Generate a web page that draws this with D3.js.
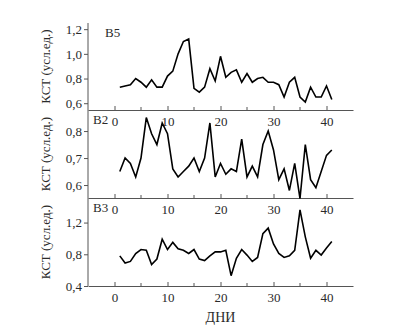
<!DOCTYPE html>
<html>
<head>
<meta charset="utf-8">
<script src="https://cdn.jsdelivr.net/npm/d3@7/dist/d3.min.js"></script>
<style>
  html, body { margin: 0; padding: 0; background: #fff; }
  svg { display: block; }
  svg text { font-family: "Times New Roman", "Liberation Serif", "DejaVu Serif", serif !important; }
</style>
</head>
<body>
<svg id="chart" width="400" height="332"></svg>
<script>
// Days of observation
const days = d3.range(1, 42);

// Series values (КСТ, усл.ед.) for each group
const seriesB5 = [0.73, 0.74, 0.75, 0.80, 0.77, 0.73, 0.79, 0.73, 0.73, 0.82,
                  0.86, 1.00, 1.10, 1.12, 0.72, 0.69, 0.73, 0.88, 0.78, 0.98,
                  0.81, 0.85, 0.87, 0.77, 0.84, 0.77, 0.80, 0.81, 0.77, 0.77,
                  0.75, 0.65, 0.77, 0.81, 0.65, 0.61, 0.73, 0.65, 0.65, 0.74,
                  0.63];
const seriesB2 = [0.65, 0.70, 0.68, 0.63, 0.70, 0.85, 0.79, 0.75, 0.83, 0.79,
                  0.66, 0.63, 0.65, 0.67, 0.70, 0.65, 0.70, 0.83, 0.63, 0.68,
                  0.64, 0.66, 0.65, 0.77, 0.63, 0.67, 0.63, 0.75, 0.80, 0.73,
                  0.62, 0.66, 0.58, 0.68, 0.55, 0.75, 0.62, 0.59, 0.65, 0.71,
                  0.73];
const seriesB3 = [0.78, 0.69, 0.71, 0.81, 0.86, 0.85, 0.67, 0.74, 0.99, 0.86,
                  0.95, 0.87, 0.85, 0.81, 0.86, 0.74, 0.72, 0.78, 0.83, 0.83,
                  0.85, 0.53, 0.75, 0.86, 0.79, 0.71, 0.76, 1.06, 1.13, 0.93,
                  0.81, 0.76, 0.78, 0.85, 1.36, 1.02, 0.75, 0.85, 0.79, 0.88,
                  0.96];

// Panel names and tick labels
const panelNames = ["В5", "В2", "В3"];
const yTicksB5 = [0.6, 0.8, 1.0, 1.2];
const yTicksB2 = [0.6, 0.7, 0.8];
const yTicksB3 = [0.4, 0.8, 1.2];
const xTickLabels = [0, 10, 20, 30, 40];
const xTickMinor = [5, 15, 25, 35];

const yLabel = "КСТ (усл.ед.)";
const xLabel = "ДНИ";

const panels = [
  { name: panelNames[0], values: seriesB5, ticks: yTicksB5, domain: [0.545, 1.25], top: 23,  bottom: 110, nameX: 105 },
  { name: panelNames[1], values: seriesB2, ticks: yTicksB2, domain: [0.552, 0.878], top: 110, bottom: 198, nameX: 93 },
  { name: panelNames[2], values: seriesB3, ticks: yTicksB3, domain: [0.4, 1.51],  top: 198, bottom: 286, nameX: 93 }
];

const left = 88, right = 353;
const axisColor = "#555";
const textColor = "#2a2a2a";
const serif = "'Times New Roman', 'Liberation Serif', serif";

const svg = d3.select("#chart");
const locale = d3.formatLocale({ decimal: ",", thousands: " ", grouping: [3], currency: ["", ""] });
const fmt = locale.format(".1f");

const x = d3.scaleLinear().domain([-5, 45]).range([left, right]);

panels.forEach((p, i) => {
  const y = d3.scaleLinear().domain(p.domain).range([p.bottom, p.top]);
  const g = svg.append("g").attr("font-family", serif);

  // left axis, ticks pointing outward
  const ya = g.append("g")
    .attr("transform", `translate(${left},0)`)
    .call(d3.axisLeft(y).tickValues(p.ticks).tickFormat(fmt).tickSizeOuter(0).tickSize(4).tickPadding(2))
    .attr("font-family", serif).attr("font-size", 13);
  ya.select(".domain").attr("stroke", axisColor).attr("d", `M0,${p.top}V${p.bottom}`);
  ya.selectAll(".tick line").attr("stroke", axisColor);
  ya.selectAll(".tick text").attr("fill", textColor);

  // bottom axis with inward ticks
  const xa = g.append("g")
    .attr("transform", `translate(0,${p.bottom})`)
    .call(d3.axisBottom(x).tickValues(xTickLabels).tickSizeInner(-4).tickSizeOuter(0).tickPadding(7))
    .attr("font-family", serif).attr("font-size", 13);
  xa.select(".domain").attr("stroke", axisColor);
  xa.selectAll(".tick line").attr("stroke", axisColor);
  xa.selectAll(".tick text").attr("fill", textColor);
  xa.selectAll(".minor").data(xTickMinor).enter()
    .append("line").attr("class", "minor")
    .attr("x1", d => x(d)).attr("x2", d => x(d))
    .attr("y1", 0).attr("y2", -3)
    .attr("stroke", axisColor);

  // series line
  const line = d3.line().x((d, j) => x(days[j])).y(d => y(d));
  g.append("path")
    .datum(p.values)
    .attr("d", line)
    .attr("fill", "none")
    .attr("stroke", "#000")
    .attr("stroke-width", 1.6)
    .attr("stroke-linejoin", "miter");

  // panel name
  g.append("text")
    .attr("x", p.nameX).attr("y", p.top + 14)
    .attr("fill", textColor)
    .attr("font-size", 13)
    .text(p.name);

  // y label
  g.append("text")
    .attr("transform", `translate(50,${(p.top + p.bottom) / 2}) rotate(-90)`)
    .attr("text-anchor", "middle")
    .attr("fill", textColor)
    .attr("font-size", 13)
    .text(yLabel);
});

svg.append("text")
  .attr("x", x(20)).attr("y", 322)
  .attr("text-anchor", "middle")
  .attr("fill", textColor)
  .attr("font-family", serif)
  .attr("font-size", 14)
  .text(xLabel);
</script>
</body>
</html>
